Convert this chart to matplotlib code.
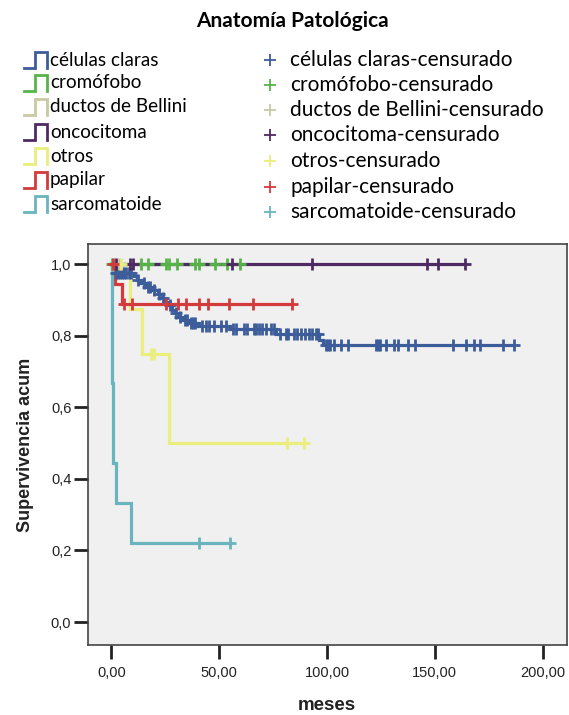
import matplotlib
matplotlib.use("Agg")
import matplotlib.pyplot as plt
import numpy as np
from matplotlib.lines import Line2D

W, H = 569, 715

# ---- data ----
groups = ["células claras", "cromófobo", "ductos de Bellini", "oncocitoma",
          "otros", "papilar", "sarcomatoide"]
colors = ["#3d5c9a", "#56b447", "#c9c9a3", "#4f2a62", "#e9ee7c", "#d23a3c", "#6ab4bd"]

claras_t = [0.5, 1.5, 10.5, 12.0, 14.0, 16.0, 19.0, 21.5, 23.5, 25.0, 26.5, 28.0,
            29.5, 31.5, 33.0, 36.0, 40.0, 55.0, 76.5, 96.5, 98.0]
claras_s = [0.988, 0.976, 0.966, 0.955, 0.946, 0.936, 0.927, 0.915, 0.905, 0.895,
            0.885, 0.873, 0.863, 0.853, 0.844, 0.835, 0.826, 0.818, 0.806, 0.789, 0.775]
claras_c = [2, 3, 4, 5, 6, 7, 8, 9, 12.5, 15, 17, 18, 20, 22, 24, 27, 30, 32, 34, 35,
            37, 38, 39, 42, 44, 45.5, 47.8, 50.9, 53.2, 56.3, 58, 61.7, 63, 66.3, 67.1,
            68.6, 70, 71.8, 74.1, 75.6, 78, 81, 82, 84.9, 86, 88, 89.6, 91.8, 93, 95,
            96, 99.6, 100.5, 101.5, 103.4, 106.5, 109.6, 122.8, 123.5, 124.5, 127.5,
            131.3, 132.8, 137.4, 141, 158.3, 164.5, 168.4, 171, 181.5, 186.5]

cromo_t, cromo_s = [], []
cromo_c = [0.5, 13.8, 17.0, 25.4, 26.6, 30.5, 38.8, 40.8, 48.1, 53.5, 59.5]

bellini_t, bellini_s = [], []
bellini_c = [3.5]

onco_t, onco_s = [], []
onco_c = [2.0, 8.5, 10.0, 56.0, 93.0, 146.5, 151.5, 164.0]

otros_t = [8.5, 14.4, 26.9]
otros_s = [0.875, 0.75, 0.5]
otros_c = [4.6, 18.4, 20.0, 81.6, 89.5]

papilar_t = [1.7, 5.0]
papilar_s = [0.944, 0.889]
papilar_c = [1.0, 6.0, 9.6, 25.5, 31.1, 34.7, 40.8, 45.0, 54.7, 65.8, 84.0]

sarco_t = [0.2, 0.9, 2.0, 9.0]
sarco_s = [0.667, 0.444, 0.333, 0.222]
sarco_c = [40.8, 55.0]

event_times = [claras_t, cromo_t, bellini_t, onco_t, otros_t, papilar_t, sarco_t]
event_surv = [claras_s, cromo_s, bellini_s, onco_s, otros_s, papilar_s, sarco_s]
censor_times = [claras_c, cromo_c, bellini_c, onco_c, otros_c, papilar_c, sarco_c]

xticks = [0, 50, 100, 150, 200]
xtick_labels = ["0,00", "50,00", "100,00", "150,00", "200,00"]
yticks = [0.0, 0.2, 0.4, 0.6, 0.8, 1.0]
ytick_labels = ["0,0", "0,2", "0,4", "0,6", "0,8", "1,0"]

# ---- figure ----
fig = plt.figure(figsize=(W / 100, H / 100), dpi=100)
fig.patch.set_facecolor("white")


def fx(px):
    return px / W


def fy(py):
    return 1 - py / H


ax = fig.add_axes([fx(88), fy(645), (567 - 88) / W, (645 - 244) / H])
ax.set_facecolor("#f0f0f0")


def step_curve(t, s, end):
    x = np.concatenate([[0.0], t, [end]])
    y = np.concatenate([[1.0], s, [s[-1] if len(s) else 1.0]])
    return x, y


# lines first, then censor marks on top
curves = []
for t, s, c, col in zip(event_times, event_surv, censor_times, colors):
    t = np.asarray(t, float)
    s = np.asarray(s, float)
    c = np.asarray(c, float)
    end = max(c.max(), t.max() if len(t) else 0)
    x, y = step_curve(t, s, end)
    curves.append((x, y, c, col))
    ax.plot(x, y, drawstyle="steps-post", color=col, lw=2.3, solid_joinstyle="miter")

for x, y, c, col in curves:
    idx = np.searchsorted(x[:-1], c, side="right") - 1
    ax.plot(c, y[idx], ls="none", marker="+", ms=8, mew=2.0, color=col)

ax.set_xlim(-10.8, 211.3)
ax.set_ylim(-0.064, 1.056)
ax.set_xticks(xticks)
ax.set_xticklabels(xtick_labels)
ax.set_yticks(yticks)
ax.set_yticklabels(ytick_labels)
ax.tick_params(direction="out", length=10, width=2, color="#222222",
               labelsize=10.5, labelcolor="#222222", pad=2)
ax.tick_params(axis="x", pad=5)
for sp in ax.spines.values():
    sp.set_color("#444444")
    sp.set_linewidth(1.2)

ax.set_ylabel("Supervivencia acum", fontsize=13, fontweight="bold",
              family="Liberation Sans", color="#222222", labelpad=12)
fig.text(fx(327), fy(706), "meses", ha="center", va="center", fontsize=13.5,
         fontweight="bold", family="Liberation Sans", color="#222222")
for lab in ax.get_xticklabels() + ax.get_yticklabels():
    lab.set_family("Liberation Sans")

# ---- legend drawn by hand ----
fig.text(fx(292), fy(21), "Anatomía Patológica", ha="center", va="center",
         fontsize=15, fontweight="bold", family="Lato", color="black")

left_rows = [60, 83, 107, 132, 156, 180, 204]
right_rows = [60, 85, 110, 135, 161, 187, 212]
for g, col, ry in zip(groups, colors, left_rows):
    xs = [fx(24), fx(35), fx(35), fx(47), fx(47)]
    ys = [fy(ry + 8), fy(ry + 8), fy(ry - 8), fy(ry - 8), fy(ry + 8)]
    fig.add_artist(Line2D(xs, ys, color=col, lw=2.0, transform=fig.transFigure,
                          solid_joinstyle="miter"))
    fig.text(fx(50), fy(ry), g, ha="left", va="center", fontsize=13.6,
             family="Lato", color="black")

for g, col, ry in zip(groups, colors, right_rows):
    fig.add_artist(Line2D([fx(270)], [fy(ry)], marker="+", ms=9, mew=1.3, color=col,
                          ls="none", transform=fig.transFigure))
    fig.text(fx(290), fy(ry), g + "-censurado", ha="left", va="center", fontsize=15,
             family="Lato", color="black")

fig.savefig("out.png", dpi=100)
